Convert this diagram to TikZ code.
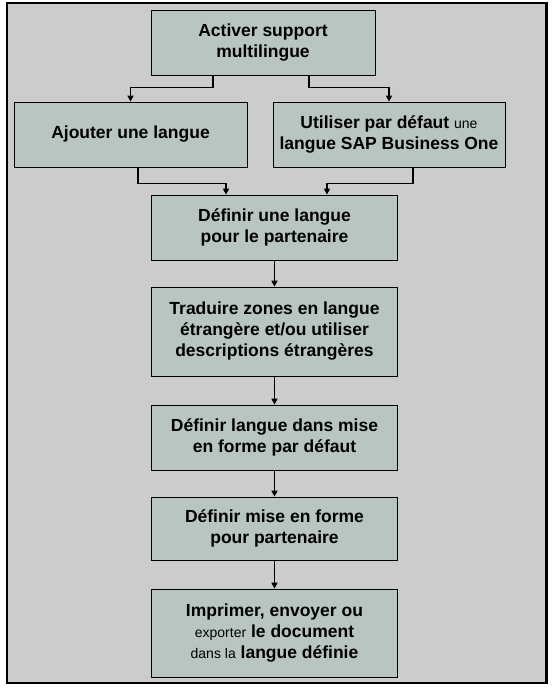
\documentclass[tikz,border=0pt]{standalone}
\usepackage{fontspec}
\setmainfont{Liberation Sans}
\usepackage{xcolor}
\usetikzlibrary{arrows.meta}
\definecolor{boxfill}{RGB}{185,197,193}
\definecolor{panelgrey}{RGB}{204,204,204}
\newcommand{\plainword}[1]{{\mdseries\fontsize{14}{21}\selectfont #1}}

\begin{document}
\begin{tikzpicture}[x=1pt,y=-1pt,
    box node/.style={rectangle,draw,fill=boxfill,line width=0.8pt,inner sep=0pt,align=center,
      minimum width=246pt,minimum height=65pt,font=\bfseries\fontsize{17.5}{21}\selectfont},
    link/.style={line width=1.6pt,-{Triangle[length=6pt,width=6pt]}}]
        \useasboundingbox (0,0) rectangle (554,691);
        \draw[line width=2.5pt,fill=panelgrey] (7,3) rectangle (546.5,683);
        \node[box node,minimum width=224pt] (act) at (263,42.5) {Activer support\\multilingue};
        \node[box node,minimum width=233pt] (add) at (130.5,134.5) {Ajouter une langue};
        \node[box node,minimum width=232pt] (sap) at (389,134.5) {Utiliser par d\'efaut \plainword{une}\\langue SAP Business One};
        \node[box node] (def) at (274.5,227.5) {D\'efinir une langue\\pour le partenaire};
        \node[box node,minimum height=89pt] (trad) at (274.5,331.5) {Traduire zones en langue\\\'etrang\`ere et/ou utiliser\\descriptions \'etrang\`eres};
        \node[box node] (lay) at (274.5,437.5) {D\'efinir langue dans mise\\en forme par d\'efaut};
        \node[box node,minimum height=63pt] (bp) at (274.5,528.5) {D\'efinir mise en forme\\pour partenaire};
        \node[box node,minimum height=88pt] (out) at (274.5,633) {Imprimer, envoyer ou\\\plainword{exporter} le document\\\plainword{dans la} langue d\'efinie};
        % split and merge at the top
        \draw[link] ([xshift=-50.3pt]act.south) -- ++(0,12) -| (add.north);
        \draw[link] ([xshift=46pt]act.south) -- ++(0,12) -| (sap.north);
        \draw[link] ([xshift=7.5pt]add.south) -- ++(0,16) -| ([xshift=-48.5pt]def.north);
        \draw[link] ([xshift=24pt]sap.south) -- ++(0,16) -| ([xshift=52.5pt]def.north);
        \path
          (def) edge[link] (trad)
          (trad) edge[link] (lay)
          (lay) edge[link] (bp)
          (bp) edge[link] (out);
      \end{tikzpicture}
\end{document}
